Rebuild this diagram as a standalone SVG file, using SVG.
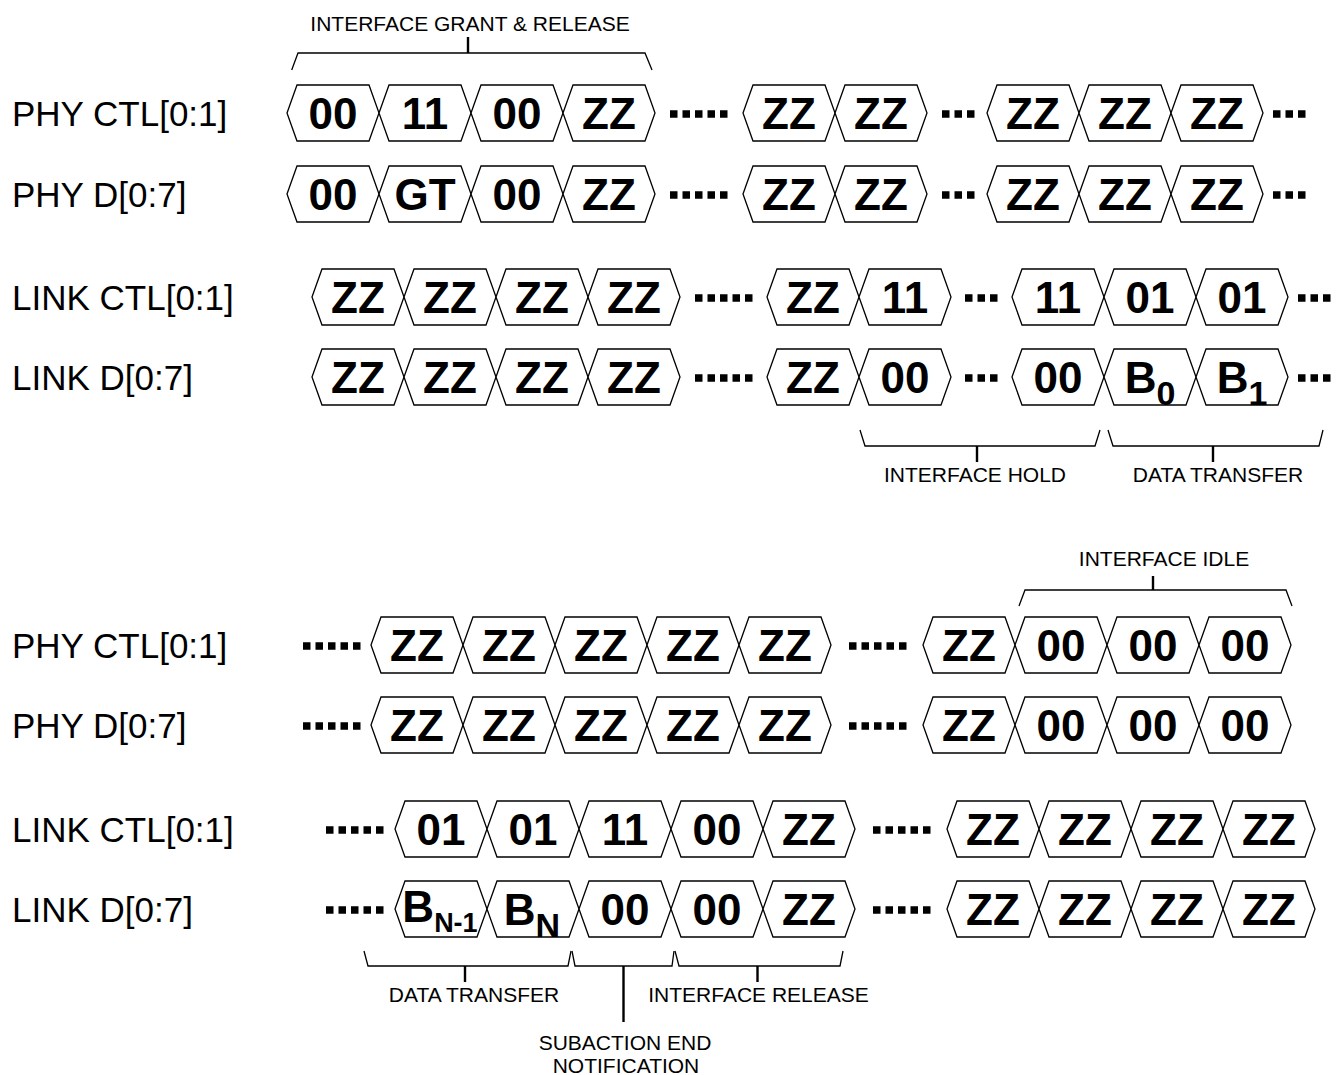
<svg xmlns="http://www.w3.org/2000/svg" width="1337" height="1075" viewBox="0 0 1337 1075">
<style>
.hx{fill:#fff;stroke:#000;stroke-width:1.3;stroke-linejoin:miter}
.v{font-family:"Liberation Sans",Arial,sans-serif;font-weight:bold;font-size:44px;text-anchor:middle;fill:#000}
.lbl{font-family:"Liberation Sans",Arial,sans-serif;font-size:35px;fill:#000}
.ann{font-family:"Liberation Sans",Arial,sans-serif;font-size:21px;fill:#000;text-anchor:middle}
.br{fill:none;stroke:#000;stroke-width:1.3}
.tk{fill:none;stroke:#000;stroke-width:2.4}
.dt{stroke:#000;stroke-width:7.5;stroke-dasharray:7.5 5}
</style>
<defs>
<path id="hx" class="hx" d="M0,0 L10,-28 L82,-28 L92,0 L82,28 L10,28 Z"/>
</defs>

<g id="labels">
<text class="lbl" x="12" y="125.5">PHY CTL[0:1]</text>
<text class="lbl" x="12" y="206.5">PHY D[0:7]</text>
<text class="lbl" x="12" y="309.5">LINK CTL[0:1]</text>
<text class="lbl" x="12" y="389.5">LINK D[0:7]</text>
<text class="lbl" x="12" y="657.5">PHY CTL[0:1]</text>
<text class="lbl" x="12" y="737.5">PHY D[0:7]</text>
<text class="lbl" x="12" y="841.5">LINK CTL[0:1]</text>
<text class="lbl" x="12" y="921.5">LINK D[0:7]</text>
</g>

<!-- Row 1: PHY CTL (top) mid 113 -->
<g id="r1c1"><use href="#hx" x="287" y="113"/><text class="v" x="333" y="129">00</text></g>
<g id="r1c2"><use href="#hx" x="379" y="113"/><text class="v" x="425" y="129">11</text></g>
<g id="r1c3"><use href="#hx" x="471" y="113"/><text class="v" x="517" y="129">00</text></g>
<g id="r1c4"><use href="#hx" x="563" y="113"/><text class="v" x="609" y="129">ZZ</text></g>
<g id="r1c5"><use href="#hx" x="743" y="113"/><text class="v" x="789" y="129">ZZ</text></g>
<g id="r1c6"><use href="#hx" x="835" y="113"/><text class="v" x="881" y="129">ZZ</text></g>
<g id="r1c7"><use href="#hx" x="987" y="113"/><text class="v" x="1033" y="129">ZZ</text></g>
<g id="r1c8"><use href="#hx" x="1079" y="113"/><text class="v" x="1125" y="129">ZZ</text></g>
<g id="r1c9"><use href="#hx" x="1171" y="113"/><text class="v" x="1217" y="129">ZZ</text></g>

<!-- Row 2: PHY D (top) mid 194 -->
<g id="r2c1"><use href="#hx" x="287" y="194"/><text class="v" x="333" y="210">00</text></g>
<g id="r2c2"><use href="#hx" x="379" y="194"/><text class="v" x="425" y="210">GT</text></g>
<g id="r2c3"><use href="#hx" x="471" y="194"/><text class="v" x="517" y="210">00</text></g>
<g id="r2c4"><use href="#hx" x="563" y="194"/><text class="v" x="609" y="210">ZZ</text></g>
<g id="r2c5"><use href="#hx" x="743" y="194"/><text class="v" x="789" y="210">ZZ</text></g>
<g id="r2c6"><use href="#hx" x="835" y="194"/><text class="v" x="881" y="210">ZZ</text></g>
<g id="r2c7"><use href="#hx" x="987" y="194"/><text class="v" x="1033" y="210">ZZ</text></g>
<g id="r2c8"><use href="#hx" x="1079" y="194"/><text class="v" x="1125" y="210">ZZ</text></g>
<g id="r2c9"><use href="#hx" x="1171" y="194"/><text class="v" x="1217" y="210">ZZ</text></g>

<!-- Row 3: LINK CTL (top) mid 297 -->
<g id="r3c1"><use href="#hx" x="312" y="297"/><text class="v" x="358" y="313">ZZ</text></g>
<g id="r3c2"><use href="#hx" x="404" y="297"/><text class="v" x="450" y="313">ZZ</text></g>
<g id="r3c3"><use href="#hx" x="496" y="297"/><text class="v" x="542" y="313">ZZ</text></g>
<g id="r3c4"><use href="#hx" x="588" y="297"/><text class="v" x="634" y="313">ZZ</text></g>
<g id="r3c5"><use href="#hx" x="767" y="297"/><text class="v" x="813" y="313">ZZ</text></g>
<g id="r3c6"><use href="#hx" x="859" y="297"/><text class="v" x="905" y="313">11</text></g>
<g id="r3c7"><use href="#hx" x="1012" y="297"/><text class="v" x="1058" y="313">11</text></g>
<g id="r3c8"><use href="#hx" x="1104" y="297"/><text class="v" x="1150" y="313">01</text></g>
<g id="r3c9"><use href="#hx" x="1196" y="297"/><text class="v" x="1242" y="313">01</text></g>

<!-- Row 4: LINK D (top) mid 377 -->
<g id="r4c1"><use href="#hx" x="312" y="377"/><text class="v" x="358" y="393">ZZ</text></g>
<g id="r4c2"><use href="#hx" x="404" y="377"/><text class="v" x="450" y="393">ZZ</text></g>
<g id="r4c3"><use href="#hx" x="496" y="377"/><text class="v" x="542" y="393">ZZ</text></g>
<g id="r4c4"><use href="#hx" x="588" y="377"/><text class="v" x="634" y="393">ZZ</text></g>
<g id="r4c5"><use href="#hx" x="767" y="377"/><text class="v" x="813" y="393">ZZ</text></g>
<g id="r4c6"><use href="#hx" x="859" y="377"/><text class="v" x="905" y="393">00</text></g>
<g id="r4c7"><use href="#hx" x="1012" y="377"/><text class="v" x="1058" y="393">00</text></g>
<g id="r4c8"><use href="#hx" x="1104" y="377"/><text class="v" x="1150" y="393">B<tspan font-size="34" dy="12">0</tspan></text></g>
<g id="r4c9"><use href="#hx" x="1196" y="377"/><text class="v" x="1242" y="393">B<tspan font-size="34" dy="12">1</tspan></text></g>

<!-- Row 5: PHY CTL (bottom) mid 645 -->
<g id="r5c1"><use href="#hx" x="371" y="645"/><text class="v" x="417" y="661">ZZ</text></g>
<g id="r5c2"><use href="#hx" x="463" y="645"/><text class="v" x="509" y="661">ZZ</text></g>
<g id="r5c3"><use href="#hx" x="555" y="645"/><text class="v" x="601" y="661">ZZ</text></g>
<g id="r5c4"><use href="#hx" x="647" y="645"/><text class="v" x="693" y="661">ZZ</text></g>
<g id="r5c5"><use href="#hx" x="739" y="645"/><text class="v" x="785" y="661">ZZ</text></g>
<g id="r5c6"><use href="#hx" x="923" y="645"/><text class="v" x="969" y="661">ZZ</text></g>
<g id="r5c7"><use href="#hx" x="1015" y="645"/><text class="v" x="1061" y="661">00</text></g>
<g id="r5c8"><use href="#hx" x="1107" y="645"/><text class="v" x="1153" y="661">00</text></g>
<g id="r5c9"><use href="#hx" x="1199" y="645"/><text class="v" x="1245" y="661">00</text></g>

<!-- Row 6: PHY D (bottom) mid 725 -->
<g id="r6c1"><use href="#hx" x="371" y="725"/><text class="v" x="417" y="741">ZZ</text></g>
<g id="r6c2"><use href="#hx" x="463" y="725"/><text class="v" x="509" y="741">ZZ</text></g>
<g id="r6c3"><use href="#hx" x="555" y="725"/><text class="v" x="601" y="741">ZZ</text></g>
<g id="r6c4"><use href="#hx" x="647" y="725"/><text class="v" x="693" y="741">ZZ</text></g>
<g id="r6c5"><use href="#hx" x="739" y="725"/><text class="v" x="785" y="741">ZZ</text></g>
<g id="r6c6"><use href="#hx" x="923" y="725"/><text class="v" x="969" y="741">ZZ</text></g>
<g id="r6c7"><use href="#hx" x="1015" y="725"/><text class="v" x="1061" y="741">00</text></g>
<g id="r6c8"><use href="#hx" x="1107" y="725"/><text class="v" x="1153" y="741">00</text></g>
<g id="r6c9"><use href="#hx" x="1199" y="725"/><text class="v" x="1245" y="741">00</text></g>

<!-- Row 7: LINK CTL (bottom) mid 829 -->
<g id="r7c1"><use href="#hx" x="395" y="829"/><text class="v" x="441" y="845">01</text></g>
<g id="r7c2"><use href="#hx" x="487" y="829"/><text class="v" x="533" y="845">01</text></g>
<g id="r7c3"><use href="#hx" x="579" y="829"/><text class="v" x="625" y="845">11</text></g>
<g id="r7c4"><use href="#hx" x="671" y="829"/><text class="v" x="717" y="845">00</text></g>
<g id="r7c5"><use href="#hx" x="763" y="829"/><text class="v" x="809" y="845">ZZ</text></g>
<g id="r7c6"><use href="#hx" x="947" y="829"/><text class="v" x="993" y="845">ZZ</text></g>
<g id="r7c7"><use href="#hx" x="1039" y="829"/><text class="v" x="1085" y="845">ZZ</text></g>
<g id="r7c8"><use href="#hx" x="1131" y="829"/><text class="v" x="1177" y="845">ZZ</text></g>
<g id="r7c9"><use href="#hx" x="1223" y="829"/><text class="v" x="1269" y="845">ZZ</text></g>

<!-- Row 8: LINK D (bottom) mid 909 -->
<g id="r8c1"><use href="#hx" x="395" y="909"/><text class="v" x="440" y="922" font-size="36">B<tspan font-size="27" dy="10">N-1</tspan></text></g>
<g id="r8c2"><use href="#hx" x="487" y="909"/><text class="v" x="532" y="925" font-size="46">B<tspan font-size="34" dy="12">N</tspan></text></g>
<g id="r8c3"><use href="#hx" x="579" y="909"/><text class="v" x="625" y="925">00</text></g>
<g id="r8c4"><use href="#hx" x="671" y="909"/><text class="v" x="717" y="925">00</text></g>
<g id="r8c5"><use href="#hx" x="763" y="909"/><text class="v" x="809" y="925">ZZ</text></g>
<g id="r8c6"><use href="#hx" x="947" y="909"/><text class="v" x="993" y="925">ZZ</text></g>
<g id="r8c7"><use href="#hx" x="1039" y="909"/><text class="v" x="1085" y="925">ZZ</text></g>
<g id="r8c8"><use href="#hx" x="1131" y="909"/><text class="v" x="1177" y="925">ZZ</text></g>
<g id="r8c9"><use href="#hx" x="1223" y="909"/><text class="v" x="1269" y="925">ZZ</text></g>

<g id="ellipses">
<line class="dt" x1="670" x2="727.5" y1="114" y2="114"/>
<line class="dt" x1="942" x2="974.5" y1="114" y2="114"/>
<line class="dt" x1="1273" x2="1305.5" y1="114" y2="114"/>
<line class="dt" x1="670" x2="727.5" y1="195" y2="195"/>
<line class="dt" x1="942" x2="974.5" y1="195" y2="195"/>
<line class="dt" x1="1273" x2="1305.5" y1="195" y2="195"/>
<line class="dt" x1="695" x2="752.5" y1="298" y2="298"/>
<line class="dt" x1="965" x2="997.5" y1="298" y2="298"/>
<line class="dt" x1="1298" x2="1330.5" y1="298" y2="298"/>
<line class="dt" x1="695" x2="752.5" y1="378" y2="378"/>
<line class="dt" x1="965" x2="997.5" y1="378" y2="378"/>
<line class="dt" x1="1298" x2="1330.5" y1="378" y2="378"/>
<line class="dt" x1="303" x2="360.5" y1="646" y2="646"/>
<line class="dt" x1="849" x2="906.5" y1="646" y2="646"/>
<line class="dt" x1="303" x2="360.5" y1="726" y2="726"/>
<line class="dt" x1="849" x2="906.5" y1="726" y2="726"/>
<line class="dt" x1="326" x2="383.5" y1="830" y2="830"/>
<line class="dt" x1="873" x2="930.5" y1="830" y2="830"/>
<line class="dt" x1="326" x2="383.5" y1="910" y2="910"/>
<line class="dt" x1="873" x2="930.5" y1="910" y2="910"/>
</g>

<g id="connectors">
<path class="br" d="M291.7,70 L298,53 L645,53 L652,70"/>
<path class="tk" d="M468,37 V53"/>
<path class="br" d="M860,430 L865,446 L1095,446 L1100,430"/>
<path class="tk" d="M977,446 V462"/>
<path class="br" d="M1108,430 L1113,446 L1319,446 L1323,430"/>
<path class="tk" d="M1213,446 V462"/>
<path class="br" d="M1019,606 L1025,590 L1286,590 L1292,606"/>
<path class="tk" d="M1153,576 V590"/>
<path class="br" d="M364,951 L368,966 L568,966 L571,951"/>
<path class="tk" d="M465,966 V982"/>
<path class="br" d="M572,951 L575,966 L672,966 L674,951"/>
<path class="tk" d="M623.5,966 V1022"/>
<path class="br" d="M675,951 L679,966 L840,966 L843,951"/>
<path class="tk" d="M757.5,966 V982"/>
</g>

<g id="annotations">
<text class="ann" x="470" y="31">INTERFACE GRANT &amp; RELEASE</text>
<text class="ann" x="975" y="482">INTERFACE HOLD</text>
<text class="ann" x="1218" y="482">DATA TRANSFER</text>
<text class="ann" x="1164" y="566">INTERFACE IDLE</text>
<text class="ann" x="474" y="1002">DATA TRANSFER</text>
<text class="ann" x="758.5" y="1002">INTERFACE RELEASE</text>
<text class="ann" x="625" y="1050">SUBACTION END</text>
<text class="ann" x="626" y="1073">NOTIFICATION</text>
</g>
</svg>
